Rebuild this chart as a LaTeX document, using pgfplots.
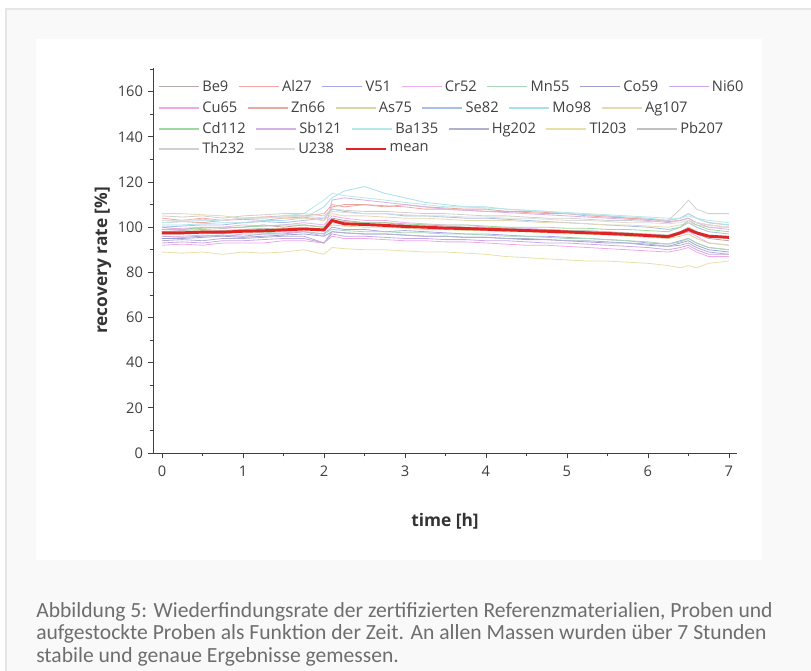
\documentclass[border=0pt]{standalone}
\usepackage{fontspec}
\setmainfont{Carlito}
\newfontfamily\chartfont{Open Sans}
\usepackage{pgfplots}
\pgfplotsset{compat=1.18}
\usepackage{pgfplotstable}

\definecolor{cardbg}{HTML}{F9F9F9}
\definecolor{cardline}{HTML}{E6E6E6}
\definecolor{captxt}{HTML}{6E6E6E}
\definecolor{axtxt}{HTML}{404040}
\definecolor{cBe}{HTML}{B8A8A8}
\definecolor{cAl}{HTML}{F4A6A6}
\definecolor{cV}{HTML}{A8A8E8}
\definecolor{cCr}{HTML}{F0B0F0}
\definecolor{cMn}{HTML}{A8D8B8}
\definecolor{cCo}{HTML}{A0A0D0}
\definecolor{cNi}{HTML}{C8A8E8}
\definecolor{cCu}{HTML}{F0A8E8}
\definecolor{cZn}{HTML}{E8A8A0}
\definecolor{cAs}{HTML}{D8D8A0}
\definecolor{cSe}{HTML}{A8C0E8}
\definecolor{cMo}{HTML}{A8E0F0}
\definecolor{cAg}{HTML}{E8D8B0}
\definecolor{cCd}{HTML}{A0D8A0}
\definecolor{cSb}{HTML}{D8B0E8}
\definecolor{cBa}{HTML}{B8E8E8}
\definecolor{cHg}{HTML}{B0B0D0}
\definecolor{cTl}{HTML}{E8E0A8}
\definecolor{cPb}{HTML}{C0C0C0}
\definecolor{cTh}{HTML}{D0D0D0}
\definecolor{cU}{HTML}{DCDCDC}
\definecolor{cmean}{HTML}{E02424}

% recovery rate [%] per mass over time [h]
\pgfplotstableread{
t    Be    Al    V     Cr    Mn    Co    Ni    Cu    Zn    As    Se    Mo    Ag    Cd    Sb    Ba    Hg    Tl    Pb    Th    U     mean
0    100   104   96    99    97    95    93    92    102   98    100   101   106   99    96    102   94    89    99    105   103   97.5
0.25 99    103   95.5  99.5  97    95    93.5  92.5  102.5 98    100.5 101   106   99    96    102.5 94.5  88.5  98.5  104.5 103   97.5
0.5  100   104   96    100   97.5  95.5  93    92    102   98.5  101   101.5 105.5 99.5  96.5  103   94    89    99    105   103.5 97.8
0.75 99.5  103   96.5  100   97    96    94    93    103   98    101   102   105   100   96    103   95    88    98.5  104   103   97.8
1    100   104   96    101   98    95.5  94    93    103.5 99    102   102   104   100   97    104   95    89    99    105   104   98.2
1.25 101   104.5 97    100.5 97.5  96    94.5  93    103   99    102.5 103   104.5 100.5 97    104   95.5  88.5  99.5  105.5 104   98.4
1.5  100   105   97    101   98    96.5  95    94    104   99.5  102   103   104   101   97.5  105   96    89    99    106   104.5 98.8
1.75 101   105   98    102   98    97    95    94    104.5 100   103   104   104   101   98    106   96    90    99.5  106   105   99.2
2.0  100   106   97    101   97    96    93    93    103   99    104   109   103   100   96    112   93    88    99    105   104   98.8
2.1  104   110   100   105   99    98    97    96    109   101   108   113   106   103   112   115   98    91    102   108   107   103
2.25 103   109   99    104   98.5  97.5  96    95    110   100.5 107   116   105   102.5 113   114   97.5  90.5  101.5 107.5 106.5 101.5
2.5  102   110   99    103   98    97    96    95    110   100   106   118   105   102   112   113   97    90    101   107   106   101.2
2.75 102   109.5 98    103   98    97    95.5  94.5  109   100   106   115   104.5 102   111   112   97    90    101   107   106   100.8
3    101   109   98.5  102   97.5  96.5  95    94    110   99.5  105   113   104   101.5 110   111   96.5  89.5  100.5 106.5 105.5 100.3
3.25 101   108   98    101.5 97.5  96    95    94    109   99    105   111   104   101   109   110   96    89    100   106   105   100
3.5  100.5 108   97.5  101   97    96    94.5  93.5  108.5 99    104.5 110   103.5 101   108   109   96    89    100   106   105   99.6
3.75 100   107.5 97    101   97    95.5  94.5  93.5  108   98.5  104   109   103   101   107.5 109   95.5  88.5  100   105.5 104.5 99.4
4    100   107   97    100   96.5  95.5  94    93    108   98.5  104   109   103   100.5 107   108.5 95.5  88    99.5  105   104.5 99.1
4.25 99.5  107   96.5  100   96    95    94    92.5  107   98    103.5 108   103   100   106.5 108   95    87    99.5  105   104   98.8
4.5  99    106.5 96    99.5  96    94.5  93.5  92    107   98    103   107.5 102.5 100   106   107.5 95    86.5  99    104.5 104   98.5
4.75 99    106   96    99    95.5  94.5  93    92    106.5 97.5  102.5 107   102   100   105.5 107   94.5  86    99    104   103.5 98.2
5    98.5  106   95.5  98.5  95    94    93    91.5  106   97    102   106   102   99.5  105   106.5 94    85.5  98.5  104   103   97.9
5.25 98    105   95    98    95    93.5  92.5  91    105.5 97    101.5 105.5 101.5 99.5  104.5 106   94    85    98.5  103.5 103   97.5
5.5  98    104.5 94.5  97    94.5  93    92    90.5  105   96.5  101   105   101   99    104   105.5 93.5  85    98    103   102.5 97.2
5.75 97    104   94    96.5  94    93    91.5  90    104   96    100.5 104.5 101   99    103.5 105   93    84.5  97.5  103   102   96.8
6    96.5  103.5 93    96    93.5  92    91    89.5  103.5 95.5  100   104   100.5 98.5  103   104.5 92.5  84    97    102.5 102   96.3
6.25 96    103   92.5  95    92.5  91.5  90    89    102.5 95    99    103   100   98    102   104   91.5  83    96.5  103   101.5 95.8
6.4  97    104   94    97    93.5  93    91    90    103   96    100   104   101   100   103   104   92    82    98    108   102   97.5
6.5  98    106   95    98    95    94    92    91    104   97    102   106   102   103   104   105   93    83    100   112   103   99
6.6  97    104   93    96    93    92    90    89    102   95    100   104   101   101   102   104   91    82    98    108   102   97.5
6.75 95    102   91    93    91    90    88    87    101   93    98    102   100   99    100   103   89    84    96    106   101   96
7    94    101   90    92    90    89    88    87    100   92    97    101   100   98    99    102   88    85    95    106   100   95.5
}\rec

\pgfplotsset{
  frame/.style={scale only axis, width=438pt, height=288.75pt,
    at={(114.75pt,163.5pt)}, anchor=south west},
  legrow/.style={frame, hide axis, xmin=0, xmax=1, ymin=0, ymax=1,
    legend columns=-1,
    legend image code/.code={\draw[##1] (0pt,0pt) -- (30pt,0pt);},
    legend style={draw=none, fill=none, inner sep=0pt, font=\chartfont\fontsize{11}{12}\selectfont, text=axtxt,
      at={(axis description cs:0.009,#1)}, anchor=west,
      nodes={inner sep=2pt},
      /tikz/every even column/.append style={column sep=5.5pt}}},
}

\begin{document}
\begin{tikzpicture}
\path[use as bounding box] (0,0) rectangle (608.25pt,503.25pt);
\fill[white] (0,0) rectangle (608.25pt,503.25pt);
\filldraw[fill=cardbg, draw=cardline, line width=0.8pt] (4.5pt,-10pt) rectangle (620pt,496.5pt);
\fill[white] (27pt,83.25pt) rectangle (571.5pt,474pt);

\begin{axis}[frame,
  xmin=-0.111, xmax=7.1, ymin=0, ymax=170.5,
  axis x line*=bottom, axis y line*=left,
  xtick={0,...,7}, ytick={0,20,...,160},
  minor xtick={0.5,1.5,...,6.5}, minor ytick={10,30,...,170},
  tick align=outside, major tick length=4pt, minor tick length=2.5pt,
  axis line style={draw=black!75, line width=0.7pt},
  every tick/.style={draw=black!75, line width=0.6pt},
  /pgf/number format/assume math mode=true,
  tick label style={font=\chartfont\fontsize{11}{12}\selectfont, text=axtxt},
  xticklabel style={yshift=-2pt},
  xlabel={time [h]}, ylabel={recovery rate [\%]},
  label style={font=\chartfont\bfseries\fontsize{13}{15}\selectfont, text=black!80},
  xlabel style={at={(axis description cs:0.5,-0.1766)}, anchor=center},
  ylabel style={at={(axis description cs:-0.0856,0.5)}, anchor=center},
  every axis plot/.append style={line width=0.6pt, line join=round},
]
\addplot[cBe] table[x=t, y=Be] {\rec};
\addplot[cAl] table[x=t, y=Al] {\rec};
\addplot[cV] table[x=t, y=V] {\rec};
\addplot[cCr] table[x=t, y=Cr] {\rec};
\addplot[cMn] table[x=t, y=Mn] {\rec};
\addplot[cCo] table[x=t, y=Co] {\rec};
\addplot[cNi] table[x=t, y=Ni] {\rec};
\addplot[cCu] table[x=t, y=Cu] {\rec};
\addplot[cZn] table[x=t, y=Zn] {\rec};
\addplot[cAs] table[x=t, y=As] {\rec};
\addplot[cSe] table[x=t, y=Se] {\rec};
\addplot[cMo] table[x=t, y=Mo] {\rec};
\addplot[cAg] table[x=t, y=Ag] {\rec};
\addplot[cCd] table[x=t, y=Cd] {\rec};
\addplot[cSb] table[x=t, y=Sb] {\rec};
\addplot[cBa] table[x=t, y=Ba] {\rec};
\addplot[cHg] table[x=t, y=Hg] {\rec};
\addplot[cTl] table[x=t, y=Tl] {\rec};
\addplot[cPb] table[x=t, y=Pb] {\rec};
\addplot[cTh] table[x=t, y=Th] {\rec};
\addplot[cU] table[x=t, y=U] {\rec};
\addplot[cmean, line width=2.2pt] table[x=t, y=mean] {\rec};
\end{axis}

% legend, set in four rows as in the original
\begin{axis}[legrow=0.9508]
\addlegendimage{cBe, line width=0.8pt}\addlegendentry{Be9}
\addlegendimage{cAl, line width=0.8pt}\addlegendentry{Al27}
\addlegendimage{cV, line width=0.8pt}\addlegendentry{V51}
\addlegendimage{cCr, line width=0.8pt}\addlegendentry{Cr52}
\addlegendimage{cMn, line width=0.8pt}\addlegendentry{Mn55}
\addlegendimage{cCo, line width=0.8pt}\addlegendentry{Co59}
\addlegendimage{cNi, line width=0.8pt}\addlegendentry{Ni60}
\end{axis}
\begin{axis}[legrow=0.8961]
\addlegendimage{cCu, line width=0.8pt}\addlegendentry{Cu65}
\addlegendimage{cZn, line width=0.8pt}\addlegendentry{Zn66}
\addlegendimage{cAs, line width=0.8pt}\addlegendentry{As75}
\addlegendimage{cSe, line width=0.8pt}\addlegendentry{Se82}
\addlegendimage{cMo, line width=0.8pt}\addlegendentry{Mo98}
\addlegendimage{cAg, line width=0.8pt}\addlegendentry{Ag107}
\end{axis}
\begin{axis}[legrow=0.8416]
\addlegendimage{cCd, line width=0.8pt}\addlegendentry{Cd112}
\addlegendimage{cSb, line width=0.8pt}\addlegendentry{Sb121}
\addlegendimage{cBa, line width=0.8pt}\addlegendentry{Ba135}
\addlegendimage{cHg, line width=0.8pt}\addlegendentry{Hg202}
\addlegendimage{cTl, line width=0.8pt}\addlegendentry{Tl203}
\addlegendimage{cPb, line width=0.8pt}\addlegendentry{Pb207}
\end{axis}
\begin{axis}[legrow=0.7896]
\addlegendimage{cTh, line width=0.8pt}\addlegendentry{Th232}
\addlegendimage{cU, line width=0.8pt}\addlegendentry{U238}
\addlegendimage{cmean, line width=2.2pt}\addlegendentry{mean}
\end{axis}

\begin{scope}[every node/.style={anchor=base west, inner sep=0pt, text=captxt, font=\fontsize{16.2}{19}\selectfont}]
\node at (27pt,39.75pt) {Abbildung 5: Wiederfindungsrate der zertifizierten Referenzmaterialien, Proben und};
\node at (27pt,23.25pt) {aufgestockte Proben als Funktion der Zeit. An allen Massen wurden über 7 Stunden};
\node at (27pt,6pt) {stabile und genaue Ergebnisse gemessen.};
\end{scope}
\end{tikzpicture}
\end{document}
